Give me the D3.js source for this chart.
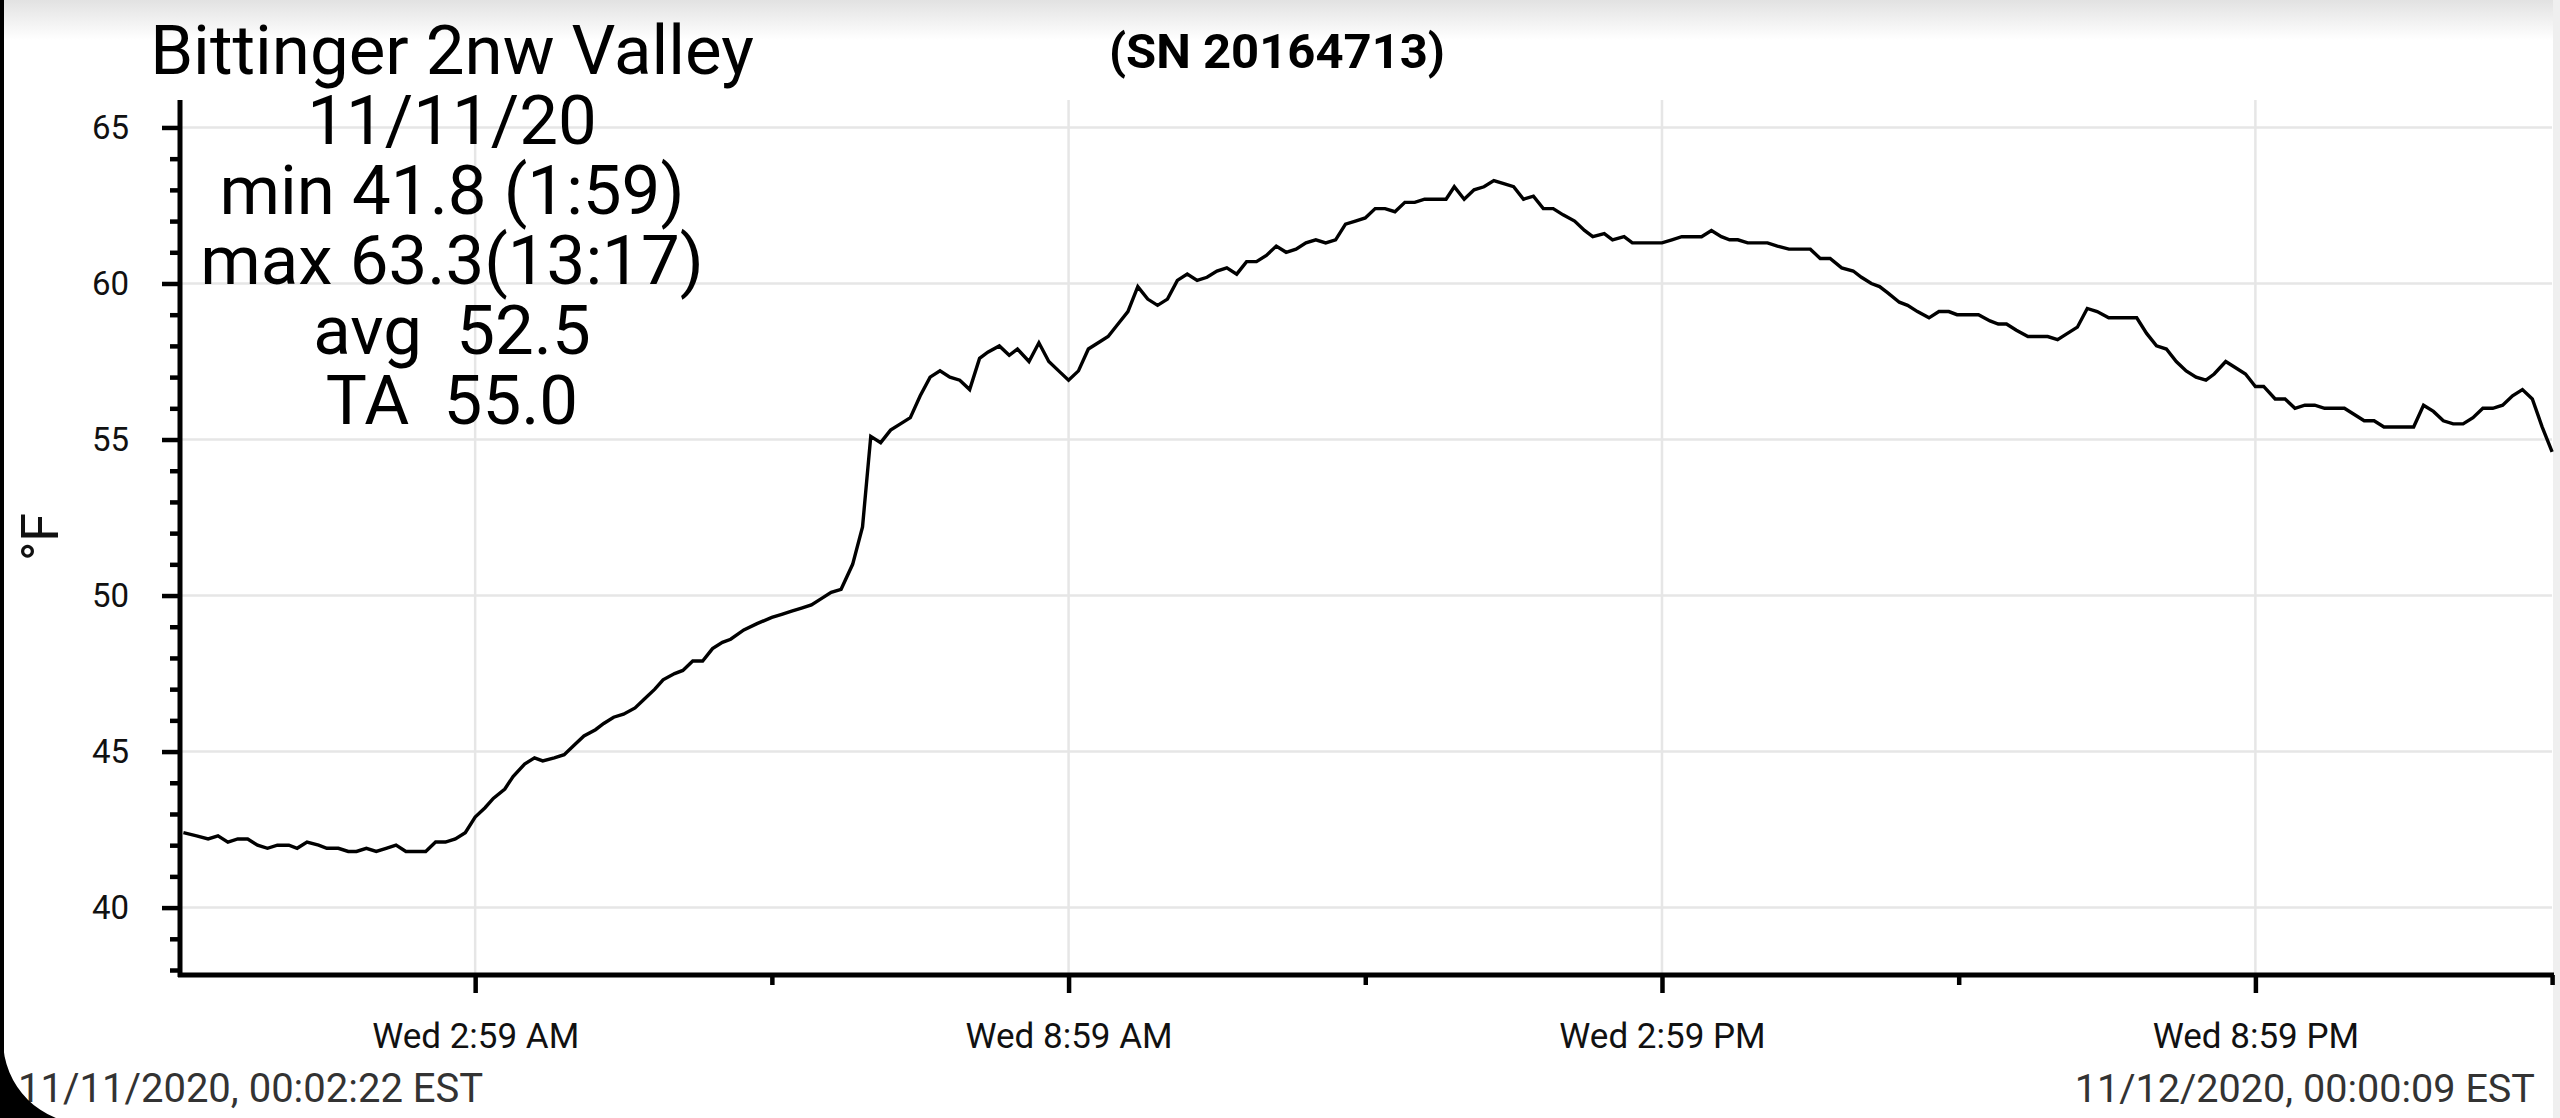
<!DOCTYPE html>
<html>
<head>
<meta charset="utf-8">
<script src="https://cdn.jsdelivr.net/npm/d3@7"></script>
<style>
  body { margin: 0; background: #fff; }
  svg { display: block; }
  text { font-family: Roboto, "Noto Sans", sans-serif; }
</style>
</head>
<body>
<div id="chart"></div>
<script>
// logger readings for 11/11/2020, time = minutes after midnight
var minutes = [
  2, 10, 17, 23, 29, 35, 41, 47, 53, 59, 66, 71, 77, 84, 89, 96, 102, 107, 113, 119,
  125, 131, 137, 143, 149, 155, 161, 167, 173, 179, 185, 190, 197, 202, 209, 215, 220, 227, 233, 239,
  245, 252, 257, 263, 269, 276, 282, 288, 293, 300, 305, 311, 317, 323, 329, 334, 342, 350, 359, 365,
  371, 377, 383, 389, 395, 401, 408, 414, 419, 425, 431, 437, 443, 449, 455, 461, 467, 473, 479, 485,
  490, 497, 503, 508, 515, 521, 527, 533, 539, 545, 551, 557, 563, 569, 575, 581, 587, 593, 599, 605,
  611, 617, 623, 629, 635, 641, 647, 653, 659, 665, 671, 677, 683, 689, 695, 701, 707, 713, 719, 725,
  731, 737, 743, 749, 755, 762, 768, 773, 779, 785, 791, 797, 803, 809, 815, 821, 827, 833, 839, 846,
  852, 857, 864, 869, 876, 881, 888, 893, 899, 905, 911, 917, 923, 929, 935, 940, 945, 951, 957, 963,
  969, 976, 982, 989, 995, 1001, 1008, 1015, 1020, 1026, 1031, 1036, 1043, 1048, 1054, 1061, 1067, 1073, 1078, 1085,
  1091, 1098, 1103, 1108, 1114, 1121, 1128, 1133, 1139, 1145, 1151, 1157, 1163, 1170, 1177, 1182, 1187, 1193, 1199, 1205,
  1211, 1217, 1223, 1229, 1234, 1241, 1247, 1253, 1259, 1264, 1271, 1277, 1283, 1289, 1295, 1301, 1307, 1313, 1319, 1325,
  1331, 1337, 1343, 1349, 1355, 1361, 1367, 1373, 1379, 1385, 1391, 1397, 1403, 1409, 1415, 1421, 1427, 1433, 1439
];
var temps = [
  42.4, 42.3, 42.2, 42.3, 42.1, 42.2, 42.2, 42.0, 41.9, 42.0, 42.0, 41.9, 42.1, 42.0, 41.9, 41.9, 41.8, 41.8, 41.9, 41.8,
  41.9, 42.0, 41.8, 41.8, 41.8, 42.1, 42.1, 42.2, 42.4, 42.9, 43.2, 43.5, 43.8, 44.2, 44.6, 44.8, 44.7, 44.8, 44.9, 45.2,
  45.5, 45.7, 45.9, 46.1, 46.2, 46.4, 46.7, 47.0, 47.3, 47.5, 47.6, 47.9, 47.9, 48.3, 48.5, 48.6, 48.9, 49.1, 49.3, 49.4,
  49.5, 49.6, 49.7, 49.9, 50.1, 50.2, 51.0, 52.2, 55.1, 54.9, 55.3, 55.5, 55.7, 56.4, 57.0, 57.2, 57.0, 56.9, 56.6, 57.6,
  57.8, 58.0, 57.7, 57.9, 57.5, 58.1, 57.5, 57.2, 56.9, 57.2, 57.9, 58.1, 58.3, 58.7, 59.1, 59.9, 59.5, 59.3, 59.5, 60.1,
  60.3, 60.1, 60.2, 60.4, 60.5, 60.3, 60.7, 60.7, 60.9, 61.2, 61.0, 61.1, 61.3, 61.4, 61.3, 61.4, 61.9, 62.0, 62.1, 62.4,
  62.4, 62.3, 62.6, 62.6, 62.7, 62.7, 62.7, 63.1, 62.7, 63.0, 63.1, 63.3, 63.2, 63.1, 62.7, 62.8, 62.4, 62.4, 62.2, 62.0,
  61.7, 61.5, 61.6, 61.4, 61.5, 61.3, 61.3, 61.3, 61.3, 61.4, 61.5, 61.5, 61.5, 61.7, 61.5, 61.4, 61.4, 61.3, 61.3, 61.3,
  61.2, 61.1, 61.1, 61.1, 60.8, 60.8, 60.5, 60.4, 60.2, 60.0, 59.9, 59.7, 59.4, 59.3, 59.1, 58.9, 59.1, 59.1, 59.0, 59.0,
  59.0, 58.8, 58.7, 58.7, 58.5, 58.3, 58.3, 58.3, 58.2, 58.4, 58.6, 59.2, 59.1, 58.9, 58.9, 58.9, 58.9, 58.4, 58.0, 57.9,
  57.5, 57.2, 57.0, 56.9, 57.1, 57.5, 57.3, 57.1, 56.7, 56.7, 56.3, 56.3, 56.0, 56.1, 56.1, 56.0, 56.0, 56.0, 55.8, 55.6,
  55.6, 55.4, 55.4, 55.4, 55.4, 56.1, 55.9, 55.6, 55.5, 55.5, 55.7, 56.0, 56.0, 56.1, 56.4, 56.6, 56.3, 55.4, 54.6
];

var majorTimes = ["02:59", "08:59", "14:59", "20:59"];
var minorTimes = ["05:59", "11:59", "17:59", "23:59"];
var majorTemps = [40, 45, 50, 55, 60, 65];
var minorTemps = [38, 39, 41, 42, 43, 44, 46, 47, 48, 49, 51, 52, 53, 54, 56, 57, 58, 59, 61, 62, 63, 64];

var titleLines = ["Bittinger 2nw Valley", "11/11/20", "min 41.8 (1:59)", "max 63.3(13:17)", "avg  52.5", "TA  55.0"];
var serial = "(SN 20164713)";
var startLabel = "11/11/2020, 00:02:22 EST";
var endLabel = "11/12/2020, 00:00:09 EST";

var width = 2560;
var height = 1118;
var axisX = 180;
var axisY = 975;

var day = Date.UTC(2020, 10, 11);
var toDate = m => new Date(day + m * 60000);
var parseHM = s => toDate(+s.slice(0, 2) * 60 + +s.slice(3));

var x = d3.scaleUtc()
  .domain([toDate(2 + 22 / 60), toDate(1440 + 9 / 60)])
  .range([184, 2554]);
var y = d3.scaleLinear().domain([37.84, 65.88]).range([axisY, 100]);

var svg = d3.select("#chart").append("svg")
  .attr("width", width)
  .attr("height", height);

// top shadow of the screen
var grad = svg.append("defs").append("linearGradient")
  .attr("id", "shade").attr("x1", 0).attr("y1", 0).attr("x2", 0).attr("y2", 1);
grad.append("stop").attr("offset", "0%").attr("stop-color", "#e2e2e2");
grad.append("stop").attr("offset", "100%").attr("stop-color", "#ffffff");
svg.append("rect").attr("x", 0).attr("y", 0).attr("width", width).attr("height", 40).attr("fill", "url(#shade)");
svg.append("rect").attr("x", 2553).attr("y", 0).attr("width", 7).attr("height", height).attr("fill", "#efefef");

// grid
svg.append("g").selectAll("line").data(majorTemps).enter().append("line")
  .attr("x1", axisX).attr("x2", 2552)
  .attr("y1", d => y(d)).attr("y2", d => y(d))
  .attr("stroke", "#e6e6e6").attr("stroke-width", 2.5);
svg.append("g").selectAll("line").data(majorTimes).enter().append("line")
  .attr("x1", d => x(parseHM(d))).attr("x2", d => x(parseHM(d)))
  .attr("y1", 100).attr("y2", axisY)
  .attr("stroke", "#e6e6e6").attr("stroke-width", 2.5);

// temperature line
var line = d3.line()
  .x((d, i) => x(toDate(minutes[i])))
  .y(d => y(d));
svg.append("path")
  .datum(temps)
  .attr("d", line)
  .attr("fill", "none")
  .attr("stroke", "#000")
  .attr("stroke-width", 3.4);

// y axis
var yMinor = svg.append("g").attr("transform", `translate(${axisX},0)`)
  .call(d3.axisLeft(y).tickValues(minorTemps).tickSize(10).tickFormat(""));
var yMajor = svg.append("g").attr("transform", `translate(${axisX},0)`)
  .call(d3.axisLeft(y).tickValues(majorTemps).tickSize(18).tickSizeOuter(0).tickPadding(33));
yMinor.select(".domain").remove();

// x axis
var xMinor = svg.append("g").attr("transform", `translate(0,${axisY})`)
  .call(d3.axisBottom(x).tickValues(minorTimes.map(parseHM)).tickSize(10).tickFormat(""));
var xMajor = svg.append("g").attr("transform", `translate(0,${axisY})`)
  .call(d3.axisBottom(x).tickValues(majorTimes.map(parseHM)).tickSize(18).tickSizeOuter(0)
    .tickPadding(30).tickFormat(d3.utcFormat("%a %-I:%M %p")));
xMinor.select(".domain").remove();

[yMinor, yMajor, xMinor, xMajor].forEach(g => {
  g.selectAll(".tick line").attr("stroke", "#000").attr("stroke-width", 4.5);
  g.select(".domain").attr("stroke", "#000").attr("stroke-width", 5);
});
yMajor.select(".domain").attr("d", `M0,${axisY + 2}V100`);
xMajor.select(".domain").attr("d", `M${axisX - 2},0H2554`);

yMajor.selectAll(".tick text").attr("font-size", "33px").attr("fill", "#111")
  .attr("font-family", "Roboto");
xMajor.selectAll(".tick text").attr("font-size", "35px").attr("fill", "#111")
  .attr("font-family", "Roboto");

// axis title
svg.append("text")
  .attr("transform", "translate(58,537) rotate(-90)")
  .attr("text-anchor", "middle")
  .attr("font-size", "52px")
  .attr("fill", "#111")
  .text("°F");

// station block
svg.append("g").selectAll("text").data(titleLines).enter().append("text")
  .attr("x", 452)
  .attr("y", (d, i) => 74 + i * 70)
  .attr("text-anchor", "middle")
  .attr("font-size", "69px")
  .attr("fill", "#000")
  .style("white-space", "pre")
  .text(d => d);

svg.append("text")
  .attr("x", 1277).attr("y", 68)
  .attr("text-anchor", "middle")
  .attr("font-size", "49px")
  .attr("font-weight", "bold")
  .attr("fill", "#000")
  .text(serial);

svg.append("text")
  .attr("x", 18).attr("y", 1102)
  .attr("font-size", "40px")
  .attr("fill", "#333")
  .text(startLabel);
svg.append("text")
  .attr("x", 2535).attr("y", 1102)
  .attr("text-anchor", "end")
  .attr("font-size", "39.6px")
  .attr("fill", "#333")
  .text(endLabel);

// phone bezel at left edge
svg.append("rect").attr("x", 0).attr("y", 0).attr("width", 4).attr("height", height).attr("fill", "#000");
svg.append("path")
  .attr("d", "M0,1040 L3,1040 A84,84 0 0 0 87,1124 L87,1118 L0,1118 Z")
  .attr("fill", "#000");
</script>
</body>
</html>
